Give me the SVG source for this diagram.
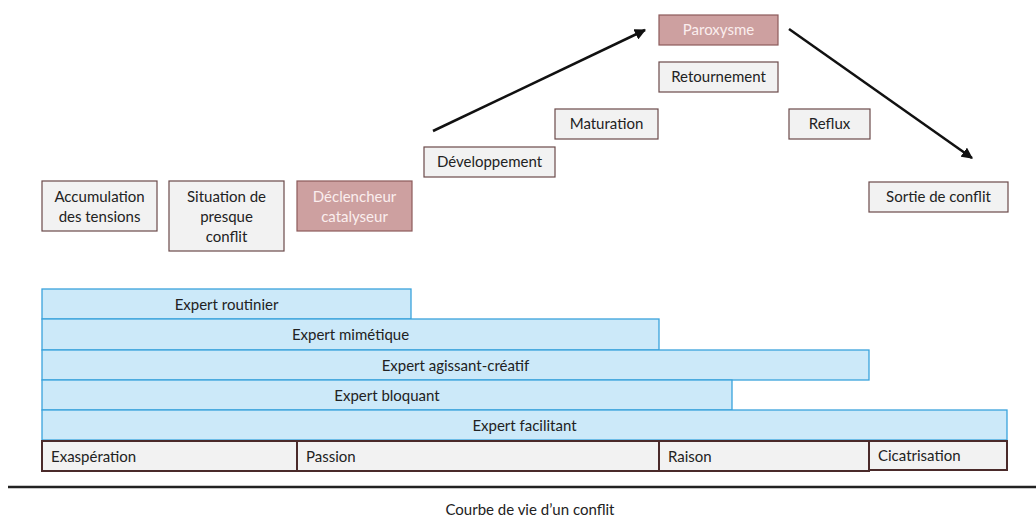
<svg xmlns="http://www.w3.org/2000/svg" width="1036" height="518" viewBox="0 0 1036 518">
<style>
text{font-family:Lato,"Open Sans","Liberation Sans",sans-serif;font-size:15px;fill:#222}
.box{fill:#f2f2f2;stroke:#6b4a4a;stroke-width:1.2}
.hot{fill:#cda0a0;stroke:#8c5a5a;stroke-width:1.2}
.ht{fill:#fbeeee}
.bar{fill:#cce9f9;stroke:#3aa3dc;stroke-width:1.3}
.ph{fill:#f2f2f2;stroke:#4a2a2a;stroke-width:2}
.c{text-anchor:middle}
.conn{stroke:#111;stroke-width:2.5;fill:none}
</style>
<defs>
<marker id="ah" viewBox="0 0 10 10" refX="9" refY="5" markerWidth="4.5" markerHeight="4.5" orient="auto" markerUnits="strokeWidth">
<path d="M0,0 L10,5 L0,10 z" fill="#111"/>
</marker>
</defs>
<rect width="1036" height="518" fill="#fff"/>
<g id="accumulation"><rect class="box" x="42" y="181" width="115" height="50"/><text class="c" x="99.5" y="202">Accumulation</text><text class="c" x="99.5" y="222">des tensions</text></g>
<g id="situation"><rect class="box" x="169" y="181" width="115" height="70"/><text class="c" x="226.5" y="202">Situation de</text><text class="c" x="226.5" y="222">presque</text><text class="c" x="226.5" y="242">conflit</text></g>
<g id="declencheur"><rect class="hot" x="297" y="181" width="115" height="50"/><text class="c ht" x="354.5" y="202">Déclencheur</text><text class="c ht" x="354.5" y="222">catalyseur</text></g>
<g id="developpement"><rect class="box" x="424" y="147" width="131" height="30"/><text class="c" x="489.5" y="167">Développement</text></g>
<g id="maturation"><rect class="box" x="555" y="109" width="103" height="30"/><text class="c" x="606.5" y="129">Maturation</text></g>
<g id="paroxysme"><rect class="hot" x="659" y="15" width="119" height="30"/><text class="c ht" x="718.5" y="35">Paroxysme</text></g>
<g id="retournement"><rect class="box" x="659" y="62" width="119" height="30"/><text class="c" x="718.5" y="82">Retournement</text></g>
<g id="reflux"><rect class="box" x="789" y="109" width="81" height="30"/><text class="c" x="829.5" y="129">Reflux</text></g>
<g id="sortie"><rect class="box" x="869" y="182" width="139" height="30"/><text class="c" x="938.5" y="202">Sortie de conflit</text></g>
<g id="connectors">
<line class="conn" x1="433" y1="131" x2="645" y2="30" marker-end="url(#ah)"/>
<line class="conn" x1="789" y1="29" x2="972" y2="158" marker-end="url(#ah)"/>
</g>
<g id="expert-routinier"><rect class="bar" x="42" y="289" width="369" height="30"/><text class="c" x="226.5" y="310">Expert routinier</text></g>
<g id="expert-mimetique"><rect class="bar" x="42" y="319" width="617" height="31"/><text class="c" x="350.5" y="340">Expert mimétique</text></g>
<g id="expert-agissant"><rect class="bar" x="42" y="350" width="827" height="30"/><text class="c" x="455.5" y="371">Expert agissant-créatif</text></g>
<g id="expert-bloquant"><rect class="bar" x="42" y="380" width="690" height="30"/><text class="c" x="387" y="401">Expert bloquant</text></g>
<g id="expert-facilitant"><rect class="bar" x="42" y="410" width="965" height="30"/><text class="c" x="524.5" y="431">Expert facilitant</text></g>
<g id="exasperation"><rect class="ph" x="42" y="441" width="255" height="30"/><text x="51" y="462">Exaspération</text></g>
<g id="passion"><rect class="ph" x="297" y="441" width="362" height="30"/><text x="306" y="462">Passion</text></g>
<g id="raison"><rect class="ph" x="659" y="441" width="210" height="30"/><text x="668" y="462">Raison</text></g>
<g id="cicatrisation"><rect class="ph" x="869" y="441" width="138" height="29"/><text x="878" y="461">Cicatrisation</text></g>
<line x1="8" y1="487" x2="1036" y2="487" stroke="#222" stroke-width="2.5"/>
<text class="c" x="530" y="515">Courbe de vie d’un conflit</text>
</svg>
